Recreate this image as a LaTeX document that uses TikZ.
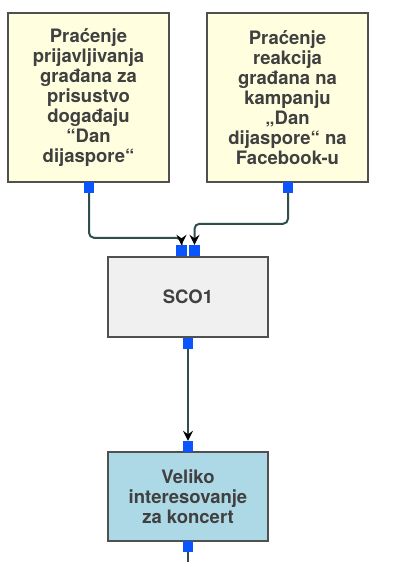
\documentclass[tikz,border=0pt]{standalone}
\usepackage{fontspec}
\setmainfont{TeX Gyre Heros}
\usetikzlibrary{arrows.meta,calc}
\definecolor{txtc}{HTML}{404040}
\definecolor{brd}{HTML}{505050}
\definecolor{yel}{HTML}{FFFFE0}
\definecolor{gry}{HTML}{F0F0F0}
\definecolor{lblue}{HTML}{ADD8E6}
\definecolor{portc}{HTML}{0A55FF}
\definecolor{linec}{HTML}{2F4F4F}
\tikzset{
  box/.style={draw=brd, line width=2pt, rectangle, inner sep=0pt, align=center,
    text=txtc, font=\fontsize{18.5}{20}\selectfont\bfseries},
  port/.style={fill=portc, draw=none, rectangle, minimum width=10.5pt, minimum height=11pt, inner sep=0pt},
  conn/.style={draw=linec, line width=2pt, rounded corners=5pt},
  arr/.style={-{Stealth[length=10pt,width=10pt,inset=3.5pt,color=black]}},
}
\begin{document}
\begin{tikzpicture}[x=1pt,y=-1pt]
\useasboundingbox (0,0) rectangle (399,562);
\fill[white] (0,0) rectangle (399,562);
\node[box, fill=yel, minimum width=161pt, minimum height=169pt] (b1) at (88.5,97.5)
  {Praćenje\\prijavljivanja\\građana za\\prisustvo\\događaju\\“Dan\\dijaspore“};
\node[box, fill=yel, minimum width=161pt, minimum height=169pt] (b2) at (287.5,97.5)
  {Praćenje\\reakcija\\građana na\\kampanju\\„Dan\\dijaspore“ na\\Facebook-u};
\node[box, fill=gry, minimum width=160pt, minimum height=80pt] (sco) at (188,297) {SCO1};
\node[box, fill=lblue, minimum width=160pt, minimum height=89pt] (b3) at (188,496.5)
  {Veliko\\interesovanje\\za koncert};
\node[port] (p1) at (89,187.5) {};
\node[port] (p2) at (288,187.5) {};
\node[port] (pa) at (181.5,250.5) {};
\node[port] (pb) at (194.5,250.5) {};
\node[port] (pc) at (188,343.5) {};
\node[port] (pd) at (188,446.5) {};
\node[port] (pe) at (188,546.5) {};
\coordinate (endb) at (188,562);
\draw[conn, arr] (p1.south) |- ($(pa.north)+(0,-7)$) -- (pa.north);
\draw[conn, arr] (p2.south) |- ($(pb.north)+(0,-21)$) -- (pb.north);
\draw[conn, arr] (pc.south) -- (pd.north);
\draw[conn] (pe.south) -- (endb);
\end{tikzpicture}
\end{document}
